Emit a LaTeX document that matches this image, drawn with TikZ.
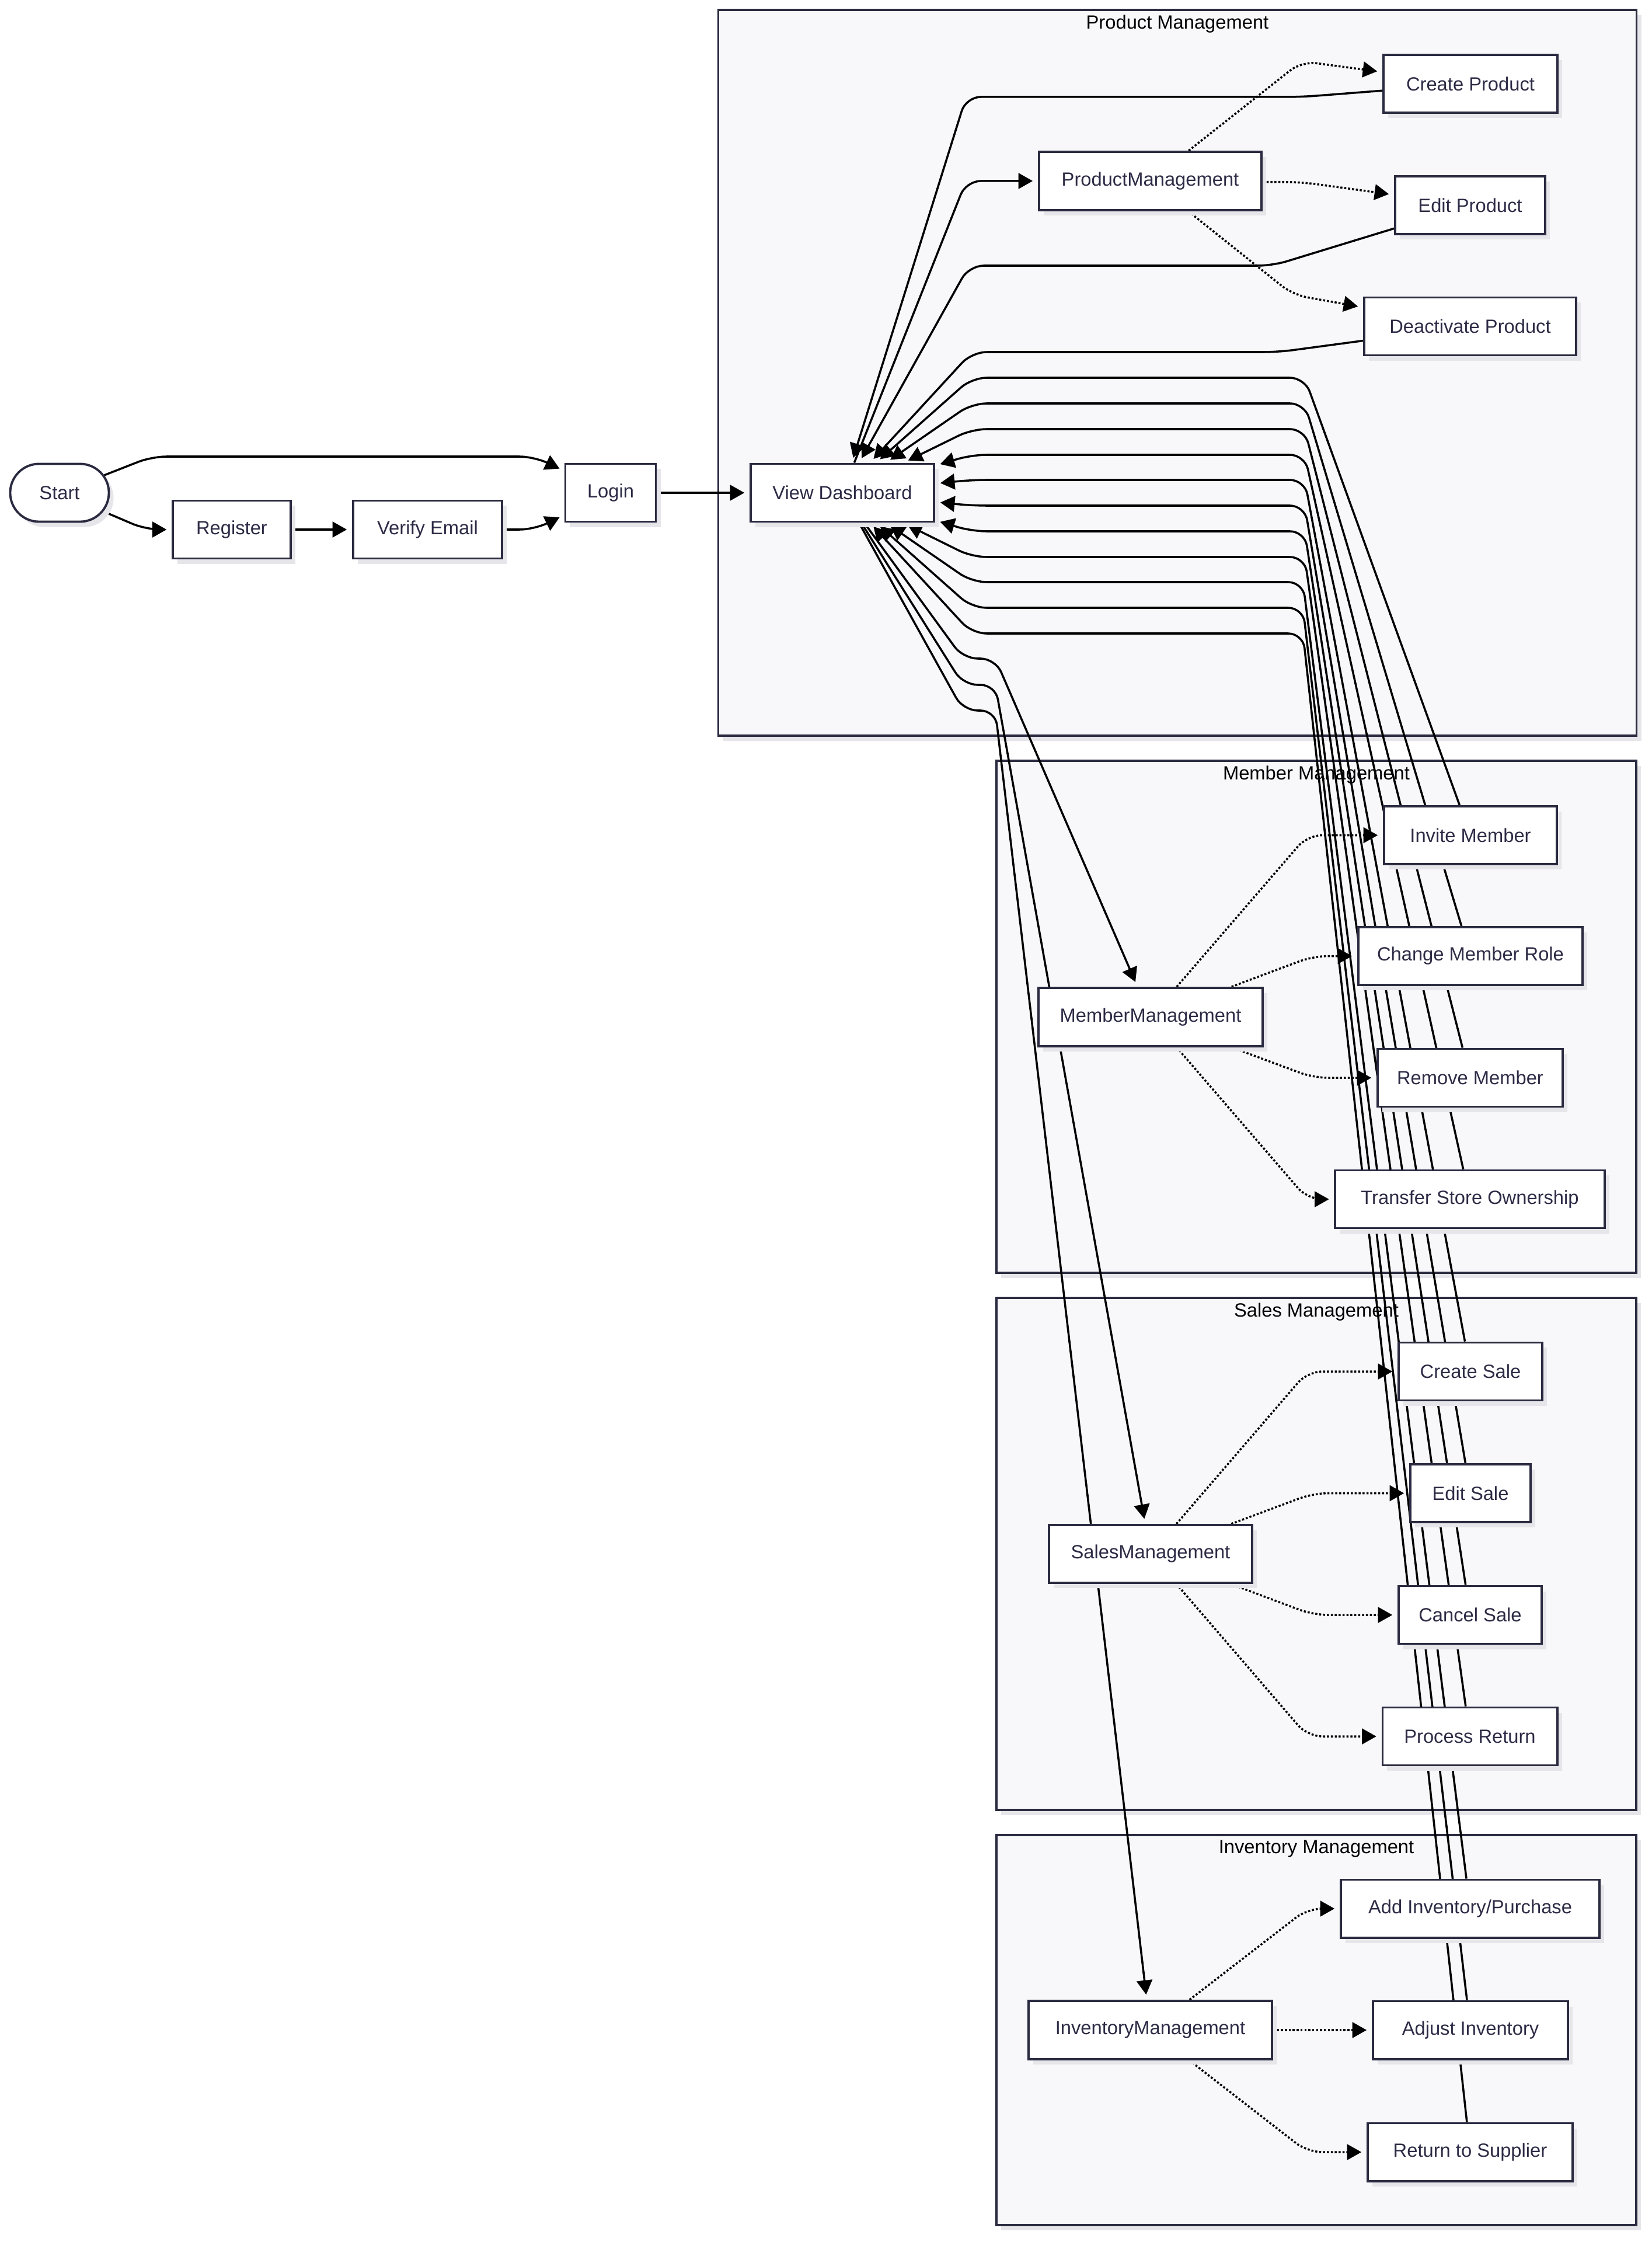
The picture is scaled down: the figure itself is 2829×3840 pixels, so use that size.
\documentclass[tikz,border=0pt]{standalone}
\usepackage{fontspec}
\setmainfont{Liberation Sans}
\usetikzlibrary{arrows.meta,shapes.misc,shadows}
\definecolor{nborder}{HTML}{2A2A40}
\definecolor{ntext}{HTML}{2D2B45}
\definecolor{cfill}{HTML}{F8F8FA}
\definecolor{shade}{HTML}{E6E6EA}
\pgfdeclarelayer{bg}
\pgfdeclarelayer{edges}
\pgfsetlayers{bg,edges,main}
\begin{document}
\begin{tikzpicture}[x=0.01cm,y=-0.01cm,
  txt/.style={font=\fontsize{9.3}{11}\selectfont},
  box/.style={txt, draw=nborder, line width=1.1pt, fill=white, text=ntext,
    minimum height=0.99cm, inner sep=0pt,
    drop shadow={shadow xshift=0.08cm, shadow yshift=-0.09cm, fill=shade, opacity=1}},
  startbox/.style={box, rounded rectangle},
  cont/.style={draw=nborder, line width=1.1pt, fill=cfill, inner sep=0pt,
    drop shadow={shadow xshift=0.08cm, shadow yshift=-0.09cm, fill=shade, opacity=1}},
  ctitle/.style={txt, text=black, inner sep=0pt},
  edge/.style={draw=black, line width=1pt, -{Triangle[length=7pt,width=7.6pt]},
    shorten >=2.5pt, rounded corners=0.25cm},
  dotedge/.style={edge, dash pattern=on 1pt off 0.9pt}
]
\useasboundingbox (0,0) rectangle (2829,3840);

% containers
\begin{pgfonlayer}{bg}
\fill[white] (0,0) rectangle (2829,3840);
\node[cont, minimum width=15.72cm, minimum height=12.43cm] (pmc) at (2017,638.5) {};
\node[cont, minimum width=10.96cm, minimum height=8.77cm] (mmc) at (2255,1741.5) {};
\node[cont, minimum width=10.96cm, minimum height=8.77cm] (smc) at (2255,2661.5) {};
\node[cont, minimum width=10.96cm, minimum height=6.68cm] (imc) at (2255,3477) {};
\node[ctitle] (pmt) at (2017,41) {Product Management};
\node[ctitle] (mmt) at (2255,1327) {Member Management};
\node[ctitle] (smt) at (2255,2247) {Sales Management};
\node[ctitle] (imt) at (2255,3167) {Inventory Management};
\end{pgfonlayer}

% nodes
\node[startbox, minimum width=1.69cm] (start) at (102,844) {Start};
\node[box, minimum width=2.015cm] (register) at (397,907) {Register};
\node[box, minimum width=2.55cm] (verify) at (732.5,907) {Verify Email};
\node[box, minimum width=1.55cm] (login) at (1046,844) {Login};
\node[box, minimum width=3.14cm] (vd) at (1443,844) {View Dashboard};

\node[box, minimum width=3.81cm, minimum height=1.0cm] (pm) at (1970.5,310) {ProductManagement};
\node[box, minimum width=2.98cm] (cp) at (2519,143.5) {Create Product};
\node[box, minimum width=2.57cm] (ep) at (2518.5,351.5) {Edit Product};
\node[box, minimum width=3.63cm] (dp) at (2518.5,559) {Deactivate Product};

\node[box, minimum width=3.84cm, minimum height=1.0cm] (mm) at (1971,1742) {MemberManagement};
\node[box, minimum width=2.96cm] (inv) at (2519,1430.5) {Invite Member};
\node[box, minimum width=3.84cm] (cr) at (2519,1637.5) {Change Member Role};
\node[box, minimum width=3.17cm] (rm) at (2518.5,1846) {Remove Member};
\node[box, minimum width=4.61cm] (ts) at (2518,2054) {Transfer Store Ownership};

\node[box, minimum width=3.47cm] (sm) at (1971,2661.5) {SalesManagement};
\node[box, minimum width=2.46cm] (cs) at (2519,2349) {Create Sale};
\node[box, minimum width=2.06cm] (es) at (2519,2557.5) {Edit Sale};
\node[box, minimum width=2.45cm] (xs) at (2518.5,2766) {Cancel Sale};
\node[box, minimum width=2.99cm] (pr) at (2518,2974) {Process Return};

\node[box, minimum width=4.17cm, minimum height=1.0cm] (im) at (1970.5,3477) {InventoryManagement};
\node[box, minimum width=4.43cm] (ai) at (2518.5,3269) {Add Inventory/Purchase};
\node[box, minimum width=3.34cm] (aj) at (2519,3477) {Adjust Inventory};
\node[box, minimum width=3.51cm] (rs) at (2518.5,3686) {Return to Supplier};

% edges
\begin{pgfonlayer}{edges}
\draw[edge] (start) -- (260,782) -- (915,782) -- (login);
\draw[edge] (start) -- (250,907) -- (register);
\draw[edge] (register) -- (verify);
\draw[edge] (verify) -- (915,907) -- (login);
\draw[edge] (login) -- (vd);

\draw[edge] (vd) -- (1655,310) -- (pm);
\draw[edge] (vd) -- (1650,1128) -- (1705,1128) -- (mm);
\draw[edge] (vd) -- (1650,1173) -- (1705,1173) -- (sm);
\draw[edge] (vd) -- (1650,1217) -- (1705,1217) -- (im);

\draw[dotedge] (pm) -- (2230,105) -- (cp);
\draw[dotedge] (pm) -- (2230,312) -- (ep);
\draw[dotedge] (pm) -- (2215,505) -- (dp);

\draw[dotedge] (mm) -- (2240,1430.5) -- (inv);
\draw[dotedge] (mm) -- (2250,1637.5) -- (cr);
\draw[dotedge] (mm) -- (2250,1846) -- (rm);
\draw[dotedge] (mm) -- (2240,2054) -- (ts);

\draw[dotedge] (sm) -- (2240,2349) -- (cs);
\draw[dotedge] (sm) -- (2250,2557.5) -- (es);
\draw[dotedge] (sm) -- (2250,2766) -- (xs);
\draw[dotedge] (sm) -- (2240,2974) -- (pr);

\draw[dotedge] (im) -- (2240,3269) -- (ai);
\draw[dotedge] (im) -- (aj);
\draw[dotedge] (im) -- (2240,3686) -- (rs);

\draw[edge] (cp) -- (2230,166) -- (1655,166) -- (vd);
\draw[edge] (ep) -- (2180,455) -- (1660,455) -- (vd);
\draw[edge] (dp) -- (2190,603) -- (1665,603) -- (vd);
\draw[edge] (inv) -- (2235,647) -- (1665,647) -- (vd);
\draw[edge] (cr) -- (2235,691) -- (1665,691) -- (vd);
\draw[edge] (rm) -- (2235,735) -- (1665,735) -- (vd);
\draw[edge] (ts) -- (2235,779) -- (1665,779) -- (vd);
\draw[edge] (cs) -- (2235,822) -- (1665,822) -- (vd);
\draw[edge] (es) -- (2235,866) -- (1665,866) -- (vd);
\draw[edge] (xs) -- (2235,910) -- (1665,910) -- (vd);
\draw[edge] (pr) -- (2235,954) -- (1665,954) -- (vd);
\draw[edge] (ai) -- (2232,997) -- (1665,997) -- (vd);
\draw[edge] (aj) -- (2232,1041) -- (1665,1041) -- (vd);
\draw[edge] (rs) -- (2232,1085) -- (1665,1085) -- (vd);
\end{pgfonlayer}
\end{tikzpicture}
\end{document}
